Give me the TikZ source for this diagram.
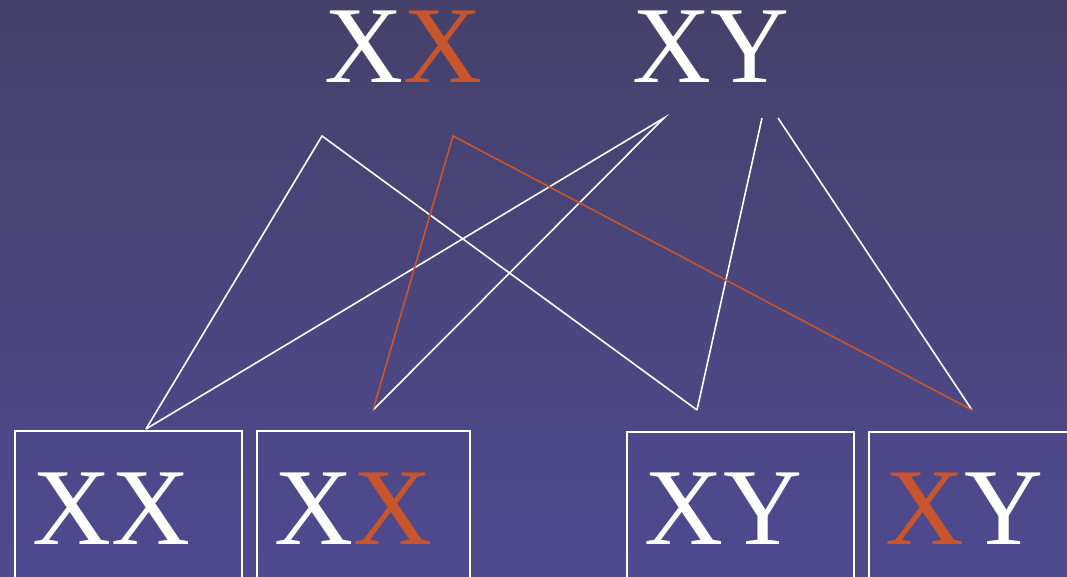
\documentclass[tikz,border=0pt]{standalone}
\usepackage{fontspec}
\setmainfont{Liberation Serif}
\usepackage{xcolor}
\usetikzlibrary{positioning,calc}

\definecolor{bgtop}{HTML}{45416A}
\definecolor{bgbot}{HTML}{4F4A90}
\definecolor{rust}{HTML}{C8552B}

\begin{document}
\begin{tikzpicture}[
  x=0.75pt, y=-0.75pt,
  gene/.style={inner sep=0pt, text=white, text height=54pt, text depth=0pt, font=\fontsize{82}{92}\selectfont},
  cell/.style={rectangle, draw=white, line width=1.3pt, minimum width=#1*0.75pt, minimum height=200pt, anchor=north west},
  link/.style={draw=white, line width=1.2pt},
  olink/.style={draw=rust, line width=1.2pt}
]
  \useasboundingbox (0,0) rectangle (1067,577);
  \clip (0,0) rectangle (1067,577);
  \shade[top color=bgtop, bottom color=bgbot] (0,0) rectangle (1067,577);

  % parents
  \node[gene, anchor=base] (mum) at (403,83) {X\textcolor{rust}{X}};
  \node[gene, anchor=base] (dad) at (711,83) {XY};

  \coordinate (m1) at (322,136);
  \coordinate (m2) at (453,136);
  \coordinate (d1) at (664,118);
  \coordinate (d2) at (762,118);
  \coordinate (d3) at (778,118);

  % children
  \node[cell=227] (c1) at (14,430) {};
  \node[cell=213] (c2) at (256,430) {};
  \node[cell=227] (c3) at (626,431) {};
  \node[cell=220] (c4) at (868,431) {};

  \node[gene, anchor=base] (k1) at (111.5,544) {XX};
  \node[gene, anchor=base] (k2) at (353,544) {X\textcolor{rust}{X}};
  \node[gene, anchor=base] (k3) at (723.5,544) {XY};
  \node[gene, anchor=base] (k4) at (964.5,544) {\textcolor{rust}{X}Y};

  \coordinate (e1) at (146,429);
  \coordinate (e2) at (373,410);
  \coordinate (e3) at (697,410);
  \coordinate (e4) at (972,410);

  \draw[link] (e1) -- (m1) -- (e3);
  \draw[link] (e1) -- (d1) -- (e2);
  \draw[link] (d2) -- (e3);
  \draw[link] (d3) -- (e4);
  \draw[olink] (e2) -- (m2) -- (e4);
\end{tikzpicture}
\end{document}
